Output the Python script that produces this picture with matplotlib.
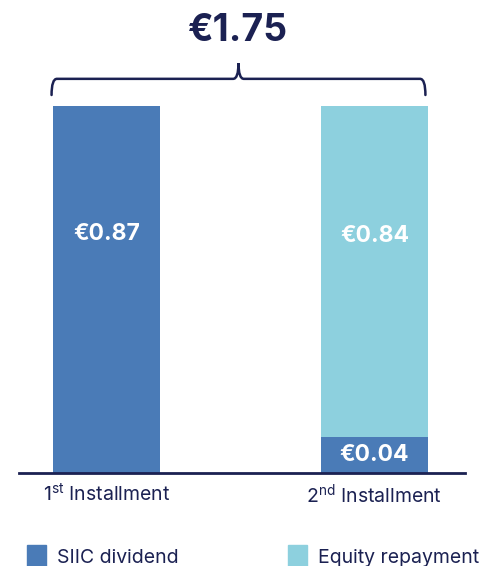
import matplotlib
matplotlib.use('Agg')
import matplotlib.pyplot as plt
from matplotlib.path import Path
from matplotlib.patches import PathPatch, Rectangle

plt.rcParams['font.family'] = ['Inter', 'DejaVu Sans']

# data
installments = ['1$^{\\mathregular{st}}$ Installment', '2$^{\\mathregular{nd}}$ Installment']
siic_dividend = [0.87, 0.04]
equity_repayment = [0.0, 0.84]
total_label = '€1.75'
# the original is not drawn to scale: segment heights as they appear in it
siic_drawn = [0.87, 0.085]
equity_drawn = [0.0, 0.785]

navy = '#1b2152'
dark_blue = '#4a7bb7'
light_blue = '#8dd0de'

W, H = 485, 566
fig = plt.figure(figsize=(W / 100, H / 100), dpi=100)
ax = fig.add_axes([19 / W, (H - 473) / H, 446 / W, 367 / H])

x = [0, 1]
width = 0.40
ax.bar(x, siic_drawn, width, color=dark_blue)
ax.bar(x, equity_drawn, width, bottom=siic_drawn, color=light_blue)

ax.set_xlim(-0.3265, 1.3377)
top = max(s + e for s, e in zip(siic_drawn, equity_drawn))
ax.set_ylim(0, top)

# value labels
lbl = dict(color='white', ha='center', va='center', fontsize=16.5, fontweight='bold')
for i in range(len(x)):
    s, e = siic_dividend[i], equity_repayment[i]
    if e > 0:
        ax.text(x[i], top * 0.645, '€%.2f' % e, **lbl)
        ax.text(x[i], siic_drawn[i] / 2, '€%.2f' % s, **lbl)
    else:
        ax.text(x[i], top * 0.65, '€%.2f' % s, **lbl)

# axes styling
for side in ['top', 'right', 'left']:
    ax.spines[side].set_visible(False)
ax.spines['bottom'].set_color(navy)
ax.spines['bottom'].set_linewidth(2)
ax.set_yticks([])
ax.set_xticks(x)
ax.set_xticklabels(installments, fontsize=14, color=navy)
ax.tick_params(axis='x', length=0, pad=7)

# brace over both bars
x0 = x[0] - width / 2 - 0.005
x1 = x[1] + width / 2 - 0.01
xm = (x0 + x1) / 2
y_end = top * 1.03
y_mid = top * 1.074
y_tip = top * 1.117
r = 0.02
verts = [(x0, y_end), (x0, y_mid), (x0 + r, y_mid),
         (xm - r, y_mid), (xm, y_mid), (xm, y_tip),
         (xm, y_mid), (xm + r, y_mid),
         (x1 - r, y_mid), (x1, y_mid), (x1, y_end)]
codes = [Path.MOVETO, Path.CURVE3, Path.CURVE3,
         Path.LINETO, Path.CURVE3, Path.CURVE3,
         Path.CURVE3, Path.CURVE3,
         Path.LINETO, Path.CURVE3, Path.CURVE3]
ax.add_patch(PathPatch(Path(verts, codes), fill=False, edgecolor=navy, lw=1.8,
                       clip_on=False, capstyle='round'))

ax.text(xm, top * 1.205, total_label, ha='center', va='center', fontsize=27,
        fontweight='bold', color=navy, clip_on=False)

# legend (cut by bottom edge as in the original)
legend_items = [('SIIC dividend', dark_blue, 27), ('Equity repayment', light_blue, 288)]
for name, col, px in legend_items:
    fig.patches.append(Rectangle((px / W, 0), 19 / W, 21 / H, transform=fig.transFigure,
                                 color=col))
    fig.text((px + 30) / W, 8 / H, name, fontsize=14, color=navy, va='center', ha='left')

fig.savefig('out.png', dpi=100)
